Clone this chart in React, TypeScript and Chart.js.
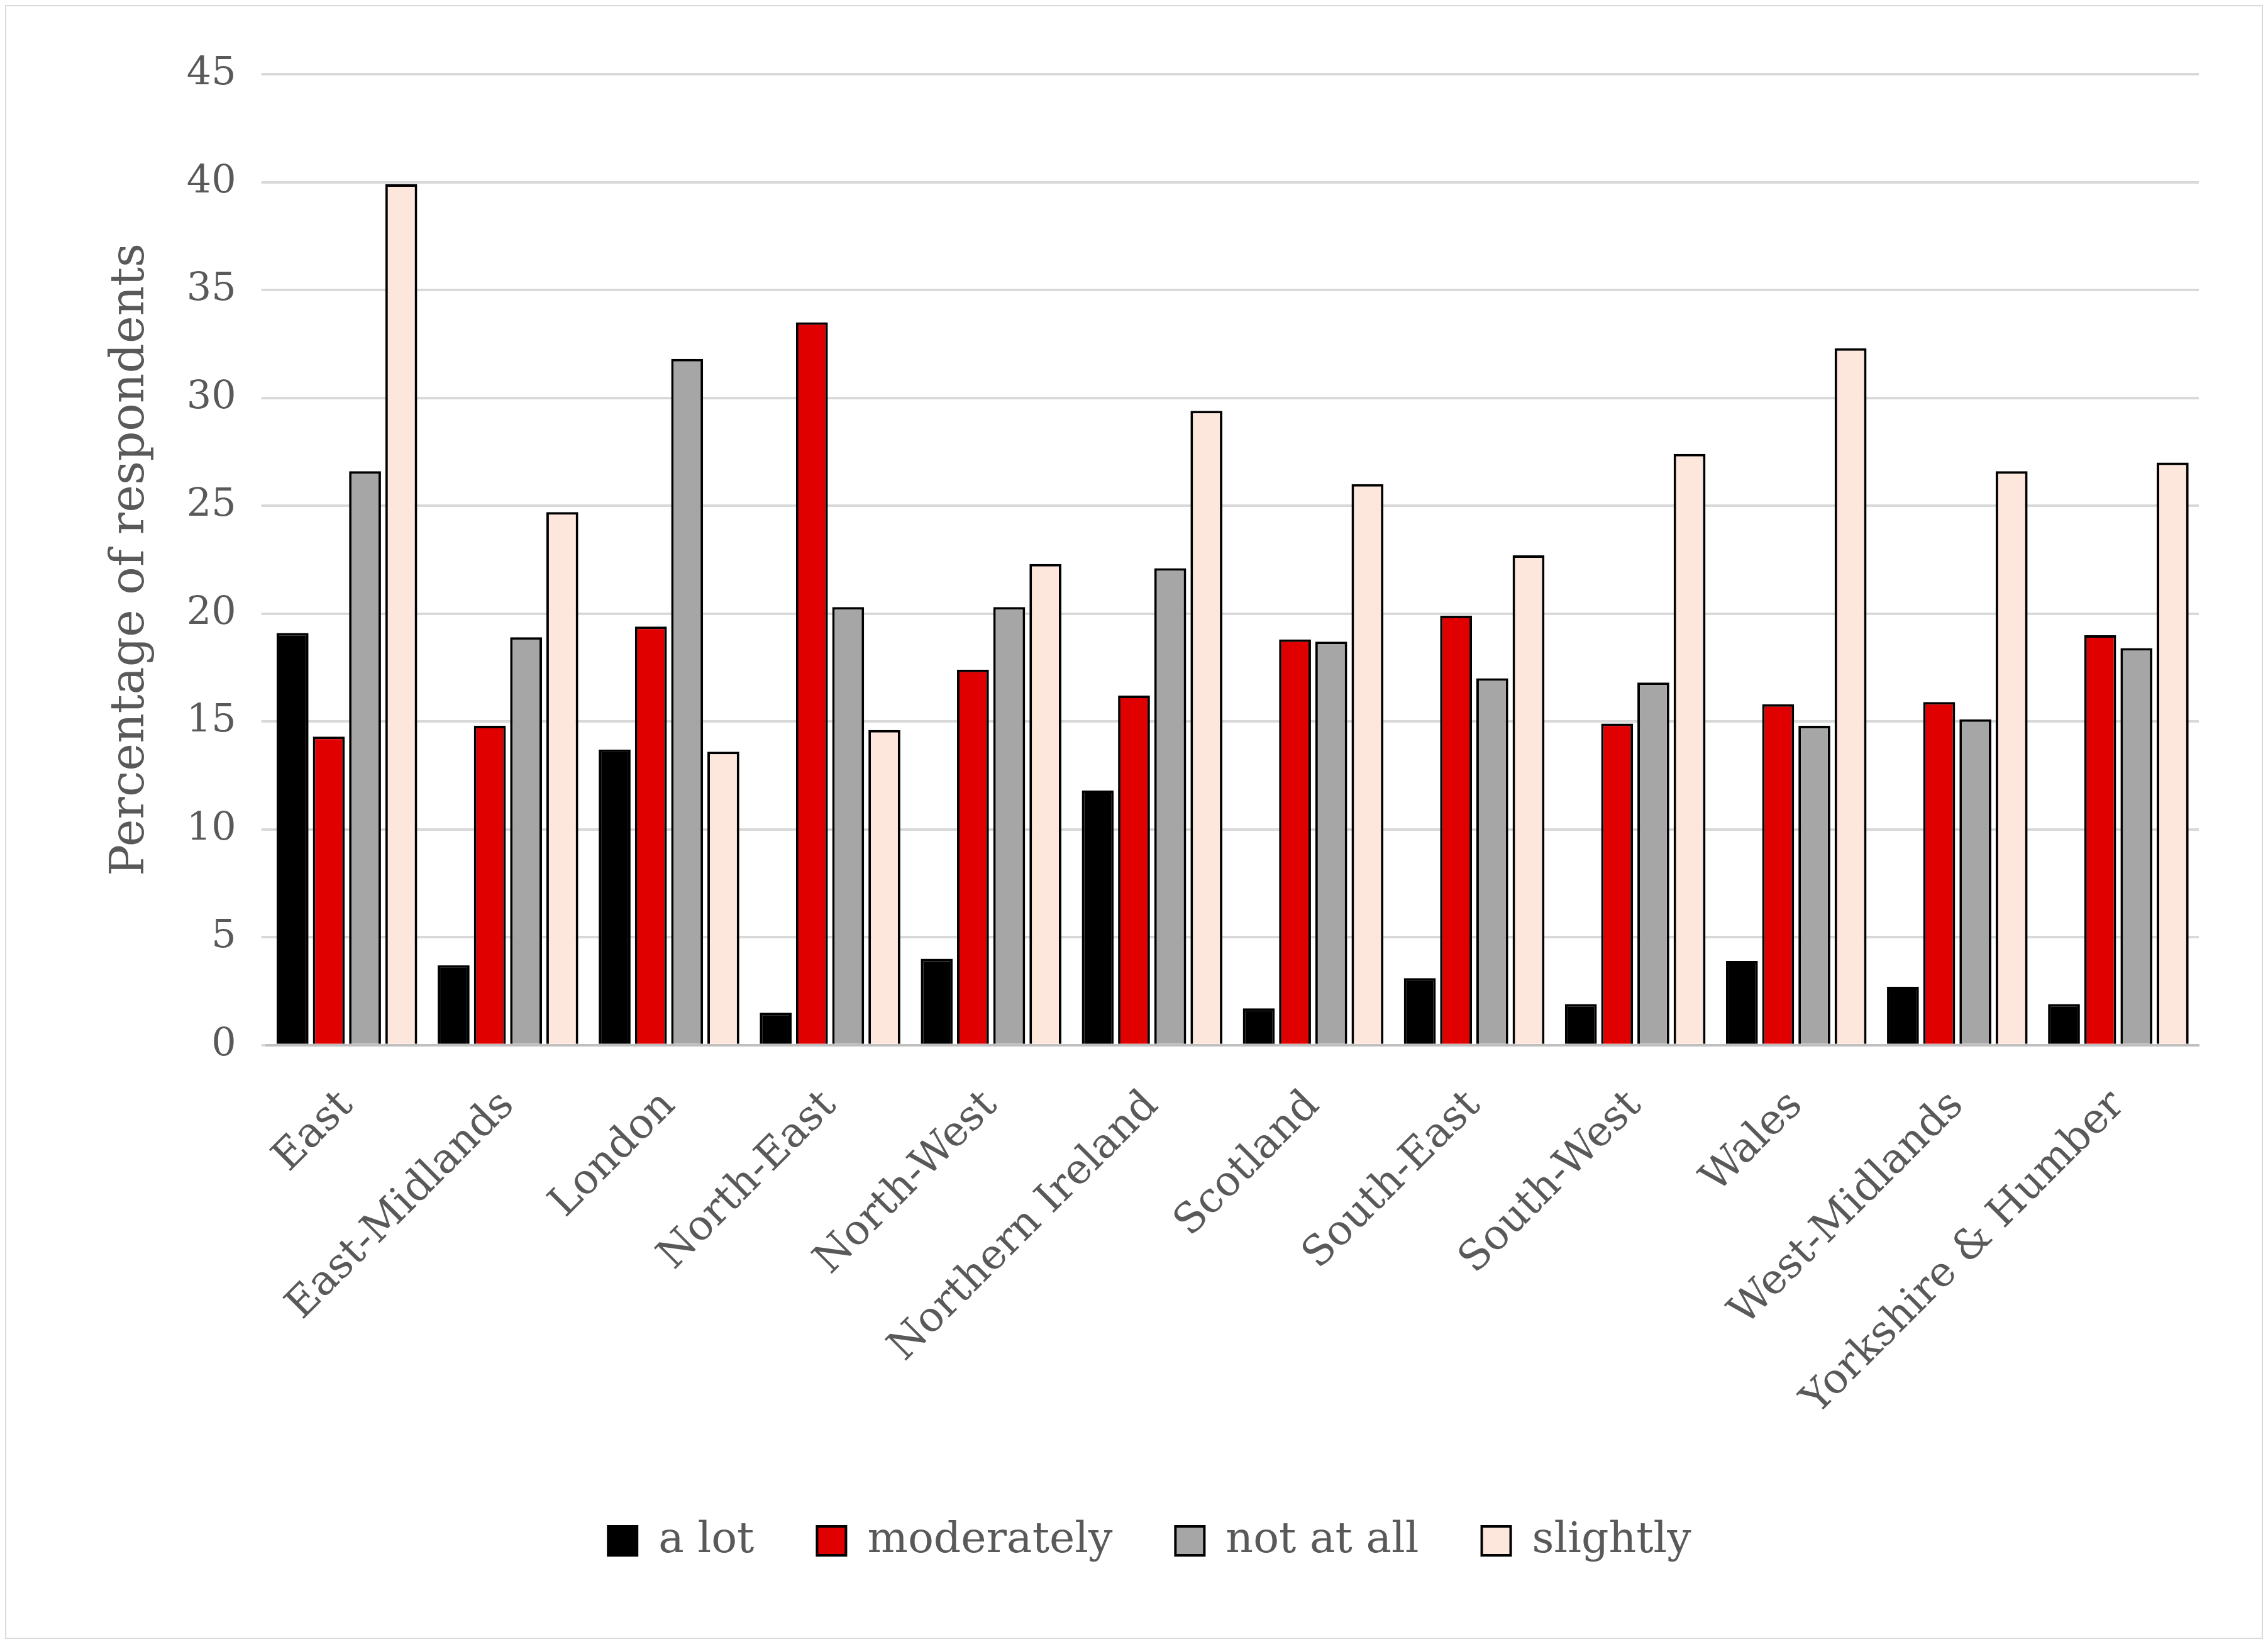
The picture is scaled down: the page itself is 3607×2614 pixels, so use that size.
import React, { useEffect, useRef } from "react";
import { Chart, registerables } from "chart.js";
Chart.register(...registerables);

const categories = ["East","East-Midlands","London","North-East","North-West","Northern Ireland","Scotland","South-East","South-West","Wales","West-Midlands","Yorkshire & Humber"];
const aLot = [19.1,3.7,13.7,1.5,4.0,11.8,1.7,3.1,1.9,3.9,2.7,1.9];
const moderately = [14.3,14.8,19.4,33.5,17.4,16.2,18.8,19.9,14.9,15.8,15.9,19.0];
const notAtAll = [26.6,18.9,31.8,20.3,20.3,22.1,18.7,17.0,16.8,14.8,15.1,18.4];
const slightly = [39.9,24.7,13.6,14.6,22.3,29.4,26.0,22.7,27.4,32.3,26.6,27.0];

export default function App() {
  const ref = useRef<HTMLCanvasElement>(null);
  useEffect(() => {
    const font = "'DejaVu Serif', 'Liberation Serif', serif";
    const mk = (label: string, data: number[], color: string) => ({
      label, data, backgroundColor: color, borderColor: "#000", borderWidth: 4,
      categoryPercentage: 0.9, barPercentage: 0.88,
    });
    const chart = new Chart(ref.current!, {
      type: "bar",
      data: {
        labels: categories,
        datasets: [
          mk("a lot", aLot, "#000000"),
          mk("moderately", moderately, "#e00000"),
          mk("not at all", notAtAll, "#a6a6a6"),
          mk("slightly", slightly, "#fde7dc"),
        ],
      },
      options: {
        animation: false, responsive: false, maintainAspectRatio: false,
        layout: { padding: { left: 150, right: 100, top: 108, bottom: 110 } },
        plugins: {
          tooltip: { enabled: false },
          legend: {
            position: "bottom",
            labels: { font: { family: font, size: 68 }, color: "#595959", boxWidth: 46, boxHeight: 46, padding: 100 },
          },
        },
        scales: {
          x: {
            grid: { display: false },
            border: { color: "#bfbfbf", width: 4 },
            ticks: { font: { family: font, size: 66 }, color: "#595959", maxRotation: 45, minRotation: 45, padding: 50 },
          },
          y: {
            min: 0, max: 45,
            ticks: { stepSize: 5, font: { family: font, size: 62 }, color: "#595959", padding: 40 },
            grid: { color: "#d9d9d9", lineWidth: 4 },
            border: { display: false },
            title: { display: true, text: "Percentage of respondents", font: { family: font, size: 74 }, color: "#595959" },
          },
        },
      },
    });
    return () => chart.destroy();
  }, []);
  return (
    <div style={{ width: 3587, height: 2594, border: "2px solid #d9d9d9", boxSizing: "content-box" }}>
      <canvas ref={ref} width={3587} height={2594} style={{ display: "block" }} />
    </div>
  );
}
